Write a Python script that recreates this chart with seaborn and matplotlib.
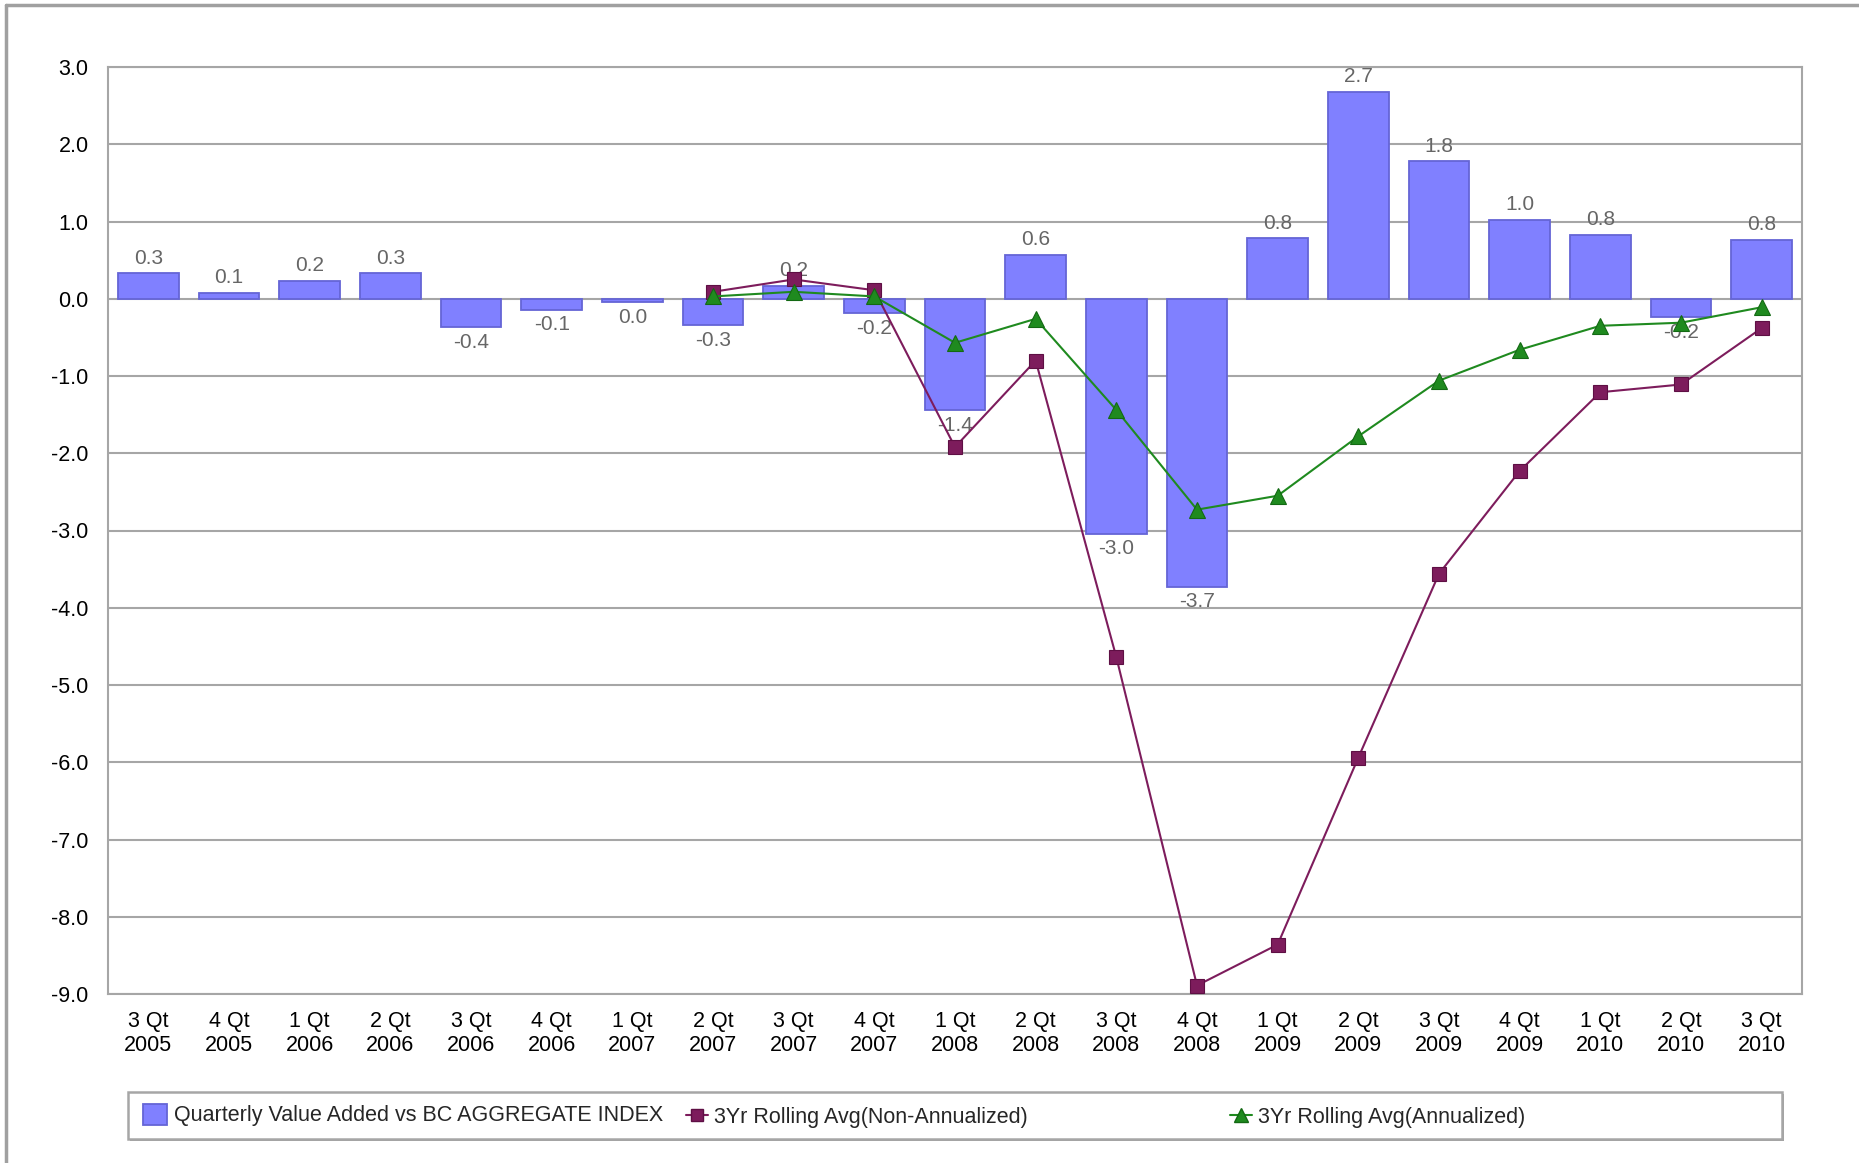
import numpy as np
import pandas as pd
import matplotlib
matplotlib.use("Agg")
import matplotlib.pyplot as plt
from matplotlib.lines import Line2D
from matplotlib.patches import Patch, Rectangle
import seaborn as sns

quarters = ["3 Qt\n2005", "4 Qt\n2005", "1 Qt\n2006", "2 Qt\n2006", "3 Qt\n2006", "4 Qt\n2006",
            "1 Qt\n2007", "2 Qt\n2007", "3 Qt\n2007", "4 Qt\n2007", "1 Qt\n2008", "2 Qt\n2008",
            "3 Qt\n2008", "4 Qt\n2008", "1 Qt\n2009", "2 Qt\n2009", "3 Qt\n2009", "4 Qt\n2009",
            "1 Qt\n2010", "2 Qt\n2010", "3 Qt\n2010"]

quarterly_value_added = [0.33, 0.08, 0.23, 0.33, -0.37, -0.14, -0.045, -0.34, 0.17, -0.19, -1.44,
                         0.57, -3.04, -3.73, 0.78, 2.68, 1.78, 1.02, 0.83, -0.24, 0.76]

rolling_non_annualized = [np.nan] * 7 + [0.09, 0.25, 0.11, -1.92, -0.80, -4.64, -8.89, -8.36,
                                         -5.94, -3.56, -2.23, -1.21, -1.11, -0.38]

rolling_annualized = [np.nan] * 7 + [0.03, 0.09, 0.03, -0.57, -0.26, -1.44, -2.73, -2.55,
                                     -1.78, -1.06, -0.66, -0.35, -0.31, -0.11]

y_ticks = [3.0, 2.0, 1.0, 0.0, -1.0, -2.0, -3.0, -4.0, -5.0, -6.0, -7.0, -8.0, -9.0]

series_names = ["Quarterly Value Added vs BC AGGREGATE INDEX",
                "3Yr Rolling Avg(Non-Annualized)",
                "3Yr Rolling Avg(Annualized)"]

df = pd.DataFrame({"quarter": quarters,
                   "qva": quarterly_value_added,
                   "non_ann": rolling_non_annualized,
                   "ann": rolling_annualized})

sns.set_style("white")
plt.rcParams["font.family"] = ["Liberation Sans", "DejaVu Sans"]

BAR_FILL = "#8080ff"
BAR_EDGE = "#6565d6"
PURPLE = "#7d1c5c"
GREEN = "#1f8a1f"
GREEN_EDGE = "#136913"
GRID = "#a6a6a6"

fig = plt.figure(figsize=(18.59, 11.63), dpi=100)
W, H = 1859, 1163
ax = fig.add_axes([108 / W, 1 - 994 / H, (1802 - 108) / W, (994 - 67) / H])

sns.barplot(data=df, x="quarter", y="qva", order=quarters, color=BAR_FILL, saturation=1,
            width=0.75, edgecolor=BAR_EDGE, linewidth=1.3, ax=ax, zorder=2)
bars = ax.containers[0]

labels = [f"{round(v, 1) + 0.0:.1f}" for v in quarterly_value_added]
ax.bar_label(bars, labels=labels, padding=4, color="#666666", fontsize=15, zorder=3)

sns.pointplot(data=df, x="quarter", y="non_ann", order=quarters, color=PURPLE, markers="s",
              linestyles="-", errorbar=None, ax=ax, markersize=9.5, linewidth=1.5,
              markeredgecolor="#5e0f44", markeredgewidth=0.8, zorder=4)
sns.pointplot(data=df, x="quarter", y="ann", order=quarters, color=GREEN, markers="^",
              linestyles="-", errorbar=None, ax=ax, markersize=11, linewidth=1.5,
              markeredgecolor=GREEN_EDGE, markeredgewidth=0.8, zorder=5)

ax.set_xlim(-0.5, len(quarters) - 0.5)
ax.set_ylim(-9, 3)
ax.set_yticks(y_ticks)
ax.set_yticklabels([f"{t:.1f}" for t in y_ticks])
ax.set_xticks(range(len(quarters)))
ax.set_xticklabels(quarters)
ax.set_xlabel("")
ax.set_ylabel("")
ax.yaxis.grid(True, color=GRID, linewidth=1.5, zorder=0)
ax.set_axisbelow(True)
for s in ax.spines.values():
    s.set_color(GRID)
    s.set_linewidth(1.5)
    s.set_visible(True)
ax.tick_params(axis="both", which="major", labelsize=15.5, labelcolor="#000000",
               color=GRID, length=5, width=1.5, direction="out")
ax.tick_params(axis="y", pad=9)
ax.tick_params(axis="x", pad=7)

# outer frame (top and left edges)
fig.add_artist(Line2D([6 / W, 6 / W], [0, 1 - 5 / H], transform=fig.transFigure,
                      color="#a0a0a0", linewidth=2.5))
fig.add_artist(Line2D([6 / W, 1], [1 - 5 / H, 1 - 5 / H], transform=fig.transFigure,
                      color="#a0a0a0", linewidth=2.5))

# legend frame with shadow
lx0, lx1, ly0, ly1 = 128, 1782, 1092, 1139
fig.add_artist(Rectangle((lx0 / W + 2 / W, 1 - (ly1 + 2) / H), (lx1 - lx0) / W, (ly1 - ly0) / H,
                         transform=fig.transFigure, facecolor="#a0a0a0", edgecolor="none",
                         zorder=0))
fig.add_artist(Rectangle((lx0 / W, 1 - ly1 / H), (lx1 - lx0) / W, (ly1 - ly0) / H,
                         transform=fig.transFigure, facecolor="white", edgecolor="#a6a6a6",
                         linewidth=1.8, zorder=1))

ly = 1 - 1115 / H
ly2 = 1 - 1117 / H
h1 = Patch(facecolor=BAR_FILL, edgecolor=BAR_EDGE, linewidth=1.3)
h2 = Line2D([], [], color=PURPLE, marker="s", markersize=9, linewidth=1.5,
            markeredgecolor="#5e0f44")
h3 = Line2D([], [], color=GREEN, marker="^", markersize=10.5, linewidth=1.5,
            markeredgecolor=GREEN_EDGE)
common = dict(loc="center left", frameon=False, borderpad=0, borderaxespad=0,
              fontsize=15.5)
leg1 = fig.legend(handles=[h1], labels=[series_names[0]], bbox_to_anchor=(143 / W, ly),
                  handlelength=1.1, handleheight=1.15, handletextpad=0.35, **common)
leg2 = fig.legend(handles=[h2], labels=[series_names[1]], bbox_to_anchor=(686 / W, ly2),
                  handlelength=1.0, handletextpad=0.3, **common)
leg3 = fig.legend(handles=[h3], labels=[series_names[2]], bbox_to_anchor=(1230 / W, ly2),
                  handlelength=1.0, handletextpad=0.3, **common)
for lg in (leg1, leg2, leg3):
    lg.set_zorder(3)

fig.savefig("out.png", dpi=100, facecolor="white")
